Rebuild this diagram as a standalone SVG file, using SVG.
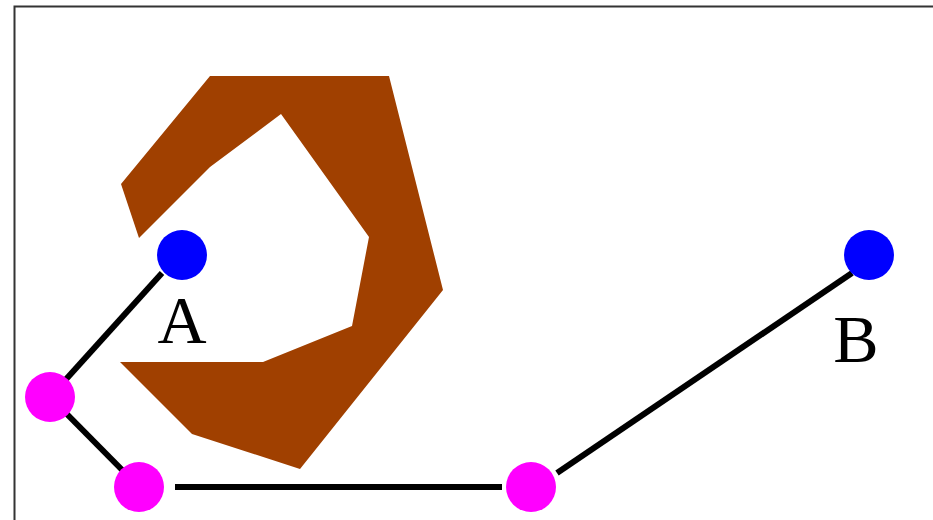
<svg xmlns="http://www.w3.org/2000/svg" width="933" height="520" viewBox="0 0 933 520">
<style>
.edge{stroke:#000;stroke-width:6;fill:none}
.lbl{font-family:"Liberation Serif","Times New Roman",serif;font-size:68px;fill:#000;text-anchor:middle}
.goal{fill:#0000ff}
.way{fill:#ff00ff}
</style>
<rect x="0" y="0" width="933" height="520" fill="#fff"/>
<rect x="14.5" y="6.5" width="940" height="540" fill="none" stroke="#333" stroke-width="2"/>
<polygon id="obstacle" fill="#a04000" points="210,76 389,76 443,290 300,469 192,434 120,362 263,362 352,326 369,237 281,114 210,167 139,238 121,184"/>
<g id="connectors">
<line class="edge" x1="162" y1="273" x2="50" y2="397"/>
<line class="edge" x1="50" y1="397" x2="139" y2="487"/>
<line class="edge" x1="175" y1="487" x2="502" y2="487"/>
<line class="edge" x1="557" y1="473" x2="852" y2="273"/>
</g>
<g id="nodeA"><circle class="goal" cx="182" cy="255" r="25"/><text class="lbl" x="182" y="343">A</text></g>
<g id="nodeB"><circle class="goal" cx="869" cy="255" r="25"/><text class="lbl" x="856" y="362">B</text></g>
<g id="wp1"><circle class="way" cx="50" cy="397" r="25"/></g>
<g id="wp2"><circle class="way" cx="139" cy="487" r="25"/></g>
<g id="wp3"><circle class="way" cx="531" cy="487" r="25"/></g>
</svg>
